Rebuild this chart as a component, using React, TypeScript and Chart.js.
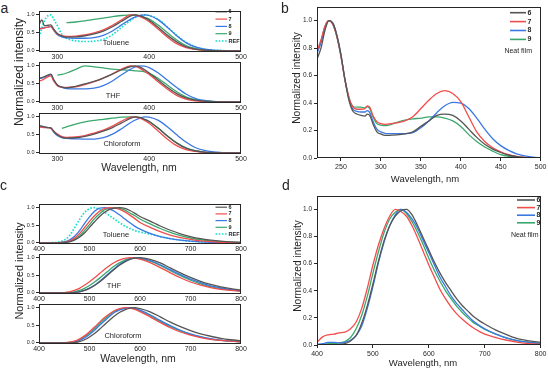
import React, { useEffect, useRef } from 'react';
import { Chart, registerables } from 'chart.js';
Chart.register(...registerables);

const FONT = '"Liberation Sans", Arial, Helvetica, sans-serif';
const INK = '#262626';
const COL6 = '#555555';
const COL7 = '#f24c4c';
const COL8 = '#3a78e3';
const COL9 = '#3aa86c';
const COLREF = '#14e0c8';

// ---------- Panel a : absorption in solution ----------
const WL_A = [280, 283, 286, 290, 293, 296, 300, 305, 310, 320, 330, 340, 350, 360, 370, 380, 385, 390, 395, 400, 410, 420, 430, 440, 450, 460, 470, 480, 490, 500];
const A_TOL_6 = [0.72, 0.86, 0.7, 0.71, 0.72, 0.6, 0.48, 0.41, 0.38, 0.39, 0.42, 0.47, 0.55, 0.67, 0.82, 0.97, 1.0, 0.97, 0.92, 0.85, 0.65, 0.43, 0.25, 0.12, 0.05, 0.02, 0.01, 0, 0, 0];
const A_TOL_7 = [0.6, 0.62, 0.64, 0.66, 0.68, 0.58, 0.47, 0.42, 0.4, 0.41, 0.44, 0.5, 0.58, 0.71, 0.86, 1.0, 0.99, 0.95, 0.89, 0.81, 0.6, 0.38, 0.2, 0.09, 0.04, 0.015, 0.005, 0, 0, 0];
const A_TOL_8 = [0.62, 0.63, 0.64, 0.66, 0.67, 0.57, 0.45, 0.39, 0.36, 0.35, 0.35, 0.37, 0.43, 0.55, 0.72, 0.88, 0.94, 0.98, 1.0, 0.98, 0.86, 0.65, 0.42, 0.23, 0.11, 0.05, 0.02, 0.01, 0, 0];
const A_TOL_9 = [null, null, null, null, null, null, null, null, 0.78, 0.8, 0.83, 0.87, 0.91, 0.95, 0.98, 1.0, 0.99, 0.97, 0.93, 0.88, 0.71, 0.5, 0.3, 0.15, 0.07, 0.03, 0.01, 0, 0, 0];
const A_TOL_REF = [0.38, 0.62, 0.84, 0.98, 1.0, 0.88, 0.7, 0.45, 0.35, 0.28, 0.26, 0.27, 0.32, 0.45, 0.65, 0.85, 0.93, 0.98, 1.0, 0.98, 0.87, 0.66, 0.43, 0.24, 0.12, 0.05, 0.02, 0.01, 0, 0];

const A_THF_6 = [0.66, 0.67, 0.7, 0.75, 0.77, 0.62, 0.47, 0.41, 0.39, 0.43, 0.5, 0.57, 0.66, 0.77, 0.89, 0.98, 1.0, 0.96, 0.89, 0.8, 0.6, 0.4, 0.23, 0.11, 0.05, 0.02, 0.01, 0, 0, 0];
const A_THF_7 = [0.58, 0.6, 0.64, 0.7, 0.72, 0.58, 0.45, 0.41, 0.4, 0.42, 0.48, 0.56, 0.66, 0.78, 0.91, 1.0, 0.98, 0.93, 0.85, 0.76, 0.55, 0.35, 0.18, 0.08, 0.03, 0.01, 0, 0, 0, 0];
const A_THF_8 = [0.65, 0.66, 0.69, 0.73, 0.75, 0.6, 0.47, 0.4, 0.37, 0.36, 0.36, 0.38, 0.45, 0.58, 0.75, 0.91, 0.97, 1.0, 0.99, 0.95, 0.8, 0.6, 0.4, 0.22, 0.1, 0.04, 0.015, 0.005, 0, 0];
const A_THF_9 = [null, null, null, null, null, null, 0.74, 0.76, 0.8, 0.9, 1.0, 0.97, 0.94, 0.91, 0.89, 0.87, 0.86, 0.85, 0.83, 0.79, 0.65, 0.46, 0.28, 0.14, 0.06, 0.02, 0.01, 0, 0, 0];

const A_CHL_6 = [0.76, 0.74, 0.72, 0.7, 0.69, 0.6, 0.5, 0.43, 0.41, 0.42, 0.46, 0.52, 0.6, 0.7, 0.83, 0.96, 1.0, 0.98, 0.93, 0.87, 0.68, 0.46, 0.27, 0.13, 0.06, 0.02, 0.01, 0, 0, 0];
const A_CHL_7 = [0.72, 0.71, 0.7, 0.7, 0.68, 0.6, 0.52, 0.45, 0.43, 0.44, 0.48, 0.55, 0.63, 0.74, 0.88, 0.99, 1.0, 0.96, 0.9, 0.82, 0.6, 0.38, 0.2, 0.09, 0.04, 0.015, 0.005, 0, 0, 0];
const A_CHL_8 = [0.75, 0.73, 0.71, 0.7, 0.68, 0.58, 0.48, 0.42, 0.4, 0.39, 0.38, 0.38, 0.42, 0.52, 0.67, 0.84, 0.91, 0.96, 1.0, 0.99, 0.9, 0.72, 0.5, 0.3, 0.15, 0.07, 0.03, 0.01, 0, 0];
const A_CHL_9 = [null, null, null, null, null, null, null, 0.68, 0.72, 0.8, 0.86, 0.9, 0.93, 0.96, 0.99, 1.0, 0.99, 0.97, 0.93, 0.87, 0.68, 0.47, 0.28, 0.14, 0.06, 0.02, 0.01, 0, 0, 0];

// ---------- Panel b : absorption, neat film ----------
const WL_B = [220, 225, 230, 235, 240, 245, 250, 255, 260, 265, 270, 275, 280, 283, 286, 290, 295, 300, 305, 310, 320, 330, 340, 350, 360, 370, 380, 390, 400, 410, 420, 430, 440, 450, 460, 470, 480, 490, 500];
const B_6 = [0.72, 0.8, 0.93, 1.0, 0.98, 0.89, 0.75, 0.57, 0.42, 0.34, 0.32, 0.31, 0.305, 0.32, 0.31, 0.25, 0.19, 0.175, 0.165, 0.165, 0.168, 0.175, 0.19, 0.23, 0.27, 0.31, 0.32, 0.31, 0.27, 0.21, 0.15, 0.1, 0.065, 0.04, 0.02, 0.01, 0.004, 0, 0];
const B_7 = [0.78, 0.86, 0.96, 1.0, 0.97, 0.88, 0.74, 0.57, 0.44, 0.37, 0.355, 0.355, 0.36, 0.38, 0.37, 0.31, 0.265, 0.25, 0.245, 0.248, 0.255, 0.27, 0.3, 0.36, 0.42, 0.47, 0.49, 0.47, 0.41, 0.3, 0.19, 0.12, 0.075, 0.045, 0.025, 0.012, 0.005, 0.002, 0];
const B_8 = [0.76, 0.84, 0.95, 1.0, 0.98, 0.89, 0.75, 0.57, 0.43, 0.355, 0.34, 0.335, 0.335, 0.345, 0.33, 0.27, 0.21, 0.19, 0.18, 0.178, 0.178, 0.178, 0.185, 0.22, 0.27, 0.33, 0.38, 0.405, 0.4, 0.36, 0.29, 0.21, 0.14, 0.09, 0.055, 0.03, 0.015, 0.006, 0];
const B_9 = [0.77, 0.85, 0.96, 1.0, 0.97, 0.88, 0.74, 0.57, 0.44, 0.375, 0.37, 0.37, 0.365, 0.375, 0.36, 0.3, 0.25, 0.24, 0.235, 0.24, 0.26, 0.275, 0.285, 0.29, 0.3, 0.3, 0.29, 0.27, 0.23, 0.17, 0.12, 0.08, 0.05, 0.025, 0.012, 0.005, 0.002, 0, 0];

// ---------- Panel c : emission in solution ----------
const WL_C = [400, 420, 440, 450, 460, 470, 480, 490, 500, 510, 520, 530, 540, 550, 560, 570, 580, 590, 600, 620, 640, 660, 680, 700, 720, 740, 760, 780, 800];
const C_TOL_6 = [0, 0, 0, 0.01, 0.03, 0.08, 0.16, 0.28, 0.44, 0.6, 0.75, 0.87, 0.95, 0.99, 1.0, 0.98, 0.92, 0.84, 0.75, 0.62, 0.48, 0.36, 0.26, 0.18, 0.12, 0.08, 0.05, 0.03, 0.02];
const C_TOL_7 = [0, 0, 0.005, 0.02, 0.05, 0.13, 0.26, 0.43, 0.61, 0.77, 0.9, 0.98, 1.0, 0.99, 0.95, 0.88, 0.79, 0.69, 0.58, 0.44, 0.32, 0.22, 0.15, 0.1, 0.06, 0.04, 0.02, 0.01, 0];
const C_TOL_8 = [0, 0, 0.01, 0.03, 0.08, 0.18, 0.34, 0.55, 0.74, 0.9, 0.99, 1.0, 0.96, 0.89, 0.79, 0.68, 0.57, 0.47, 0.39, 0.27, 0.18, 0.12, 0.08, 0.05, 0.03, 0.015, 0.01, 0.005, 0];
const C_TOL_9 = [0, 0, 0, 0.015, 0.04, 0.1, 0.2, 0.35, 0.52, 0.69, 0.83, 0.94, 0.99, 1.0, 0.98, 0.93, 0.85, 0.77, 0.68, 0.54, 0.41, 0.3, 0.21, 0.14, 0.09, 0.06, 0.04, 0.02, 0.01];
const C_TOL_REF = [0, 0.005, 0.03, 0.08, 0.2, 0.42, 0.66, 0.86, 0.97, 1.0, 0.95, 0.87, 0.77, 0.67, 0.57, 0.48, 0.41, 0.35, 0.31, 0.25, 0.18, 0.12, 0.08, 0.05, 0.03, 0.015, 0.005, 0, 0];

const C_THF_6 = [0, 0, 0, 0, 0, 0.01, 0.03, 0.07, 0.13, 0.21, 0.31, 0.43, 0.56, 0.68, 0.79, 0.88, 0.95, 0.99, 1.0, 0.95, 0.85, 0.71, 0.57, 0.44, 0.33, 0.24, 0.17, 0.12, 0.08];
const C_THF_7 = [0, 0, 0, 0.01, 0.03, 0.07, 0.13, 0.22, 0.32, 0.43, 0.55, 0.67, 0.78, 0.87, 0.94, 0.98, 1.0, 0.99, 0.96, 0.86, 0.72, 0.57, 0.43, 0.31, 0.22, 0.15, 0.1, 0.07, 0.05];
const C_THF_8 = [0, 0, 0, 0, 0, 0.01, 0.03, 0.07, 0.14, 0.22, 0.33, 0.45, 0.58, 0.7, 0.81, 0.9, 0.96, 1.0, 0.99, 0.92, 0.8, 0.66, 0.52, 0.39, 0.29, 0.2, 0.14, 0.09, 0.06];
const C_THF_9 = [0, 0, 0, 0, 0.01, 0.03, 0.07, 0.13, 0.21, 0.31, 0.42, 0.54, 0.66, 0.77, 0.86, 0.93, 0.98, 1.0, 0.98, 0.9, 0.78, 0.63, 0.49, 0.36, 0.26, 0.18, 0.12, 0.08, 0.06];

const C_CHL_6 = [0, 0, 0, 0, 0, 0.01, 0.04, 0.09, 0.17, 0.27, 0.39, 0.52, 0.65, 0.77, 0.87, 0.94, 0.99, 1.0, 0.97, 0.88, 0.74, 0.59, 0.46, 0.35, 0.26, 0.19, 0.13, 0.09, 0.06];
const C_CHL_7 = [0, 0, 0, 0.005, 0.02, 0.05, 0.11, 0.2, 0.32, 0.45, 0.59, 0.72, 0.83, 0.92, 0.97, 1.0, 0.99, 0.95, 0.89, 0.74, 0.58, 0.43, 0.31, 0.22, 0.15, 0.1, 0.07, 0.05, 0.03];
const C_CHL_8 = [0, 0, 0, 0, 0.01, 0.03, 0.07, 0.14, 0.24, 0.36, 0.5, 0.63, 0.76, 0.87, 0.94, 0.98, 1.0, 0.98, 0.93, 0.8, 0.64, 0.49, 0.36, 0.26, 0.18, 0.12, 0.08, 0.05, 0.035];
const C_CHL_9 = [0, 0, 0, 0.005, 0.015, 0.04, 0.09, 0.17, 0.28, 0.41, 0.55, 0.68, 0.8, 0.9, 0.96, 0.99, 1.0, 0.97, 0.91, 0.77, 0.61, 0.46, 0.34, 0.24, 0.17, 0.11, 0.07, 0.05, 0.03];

// ---------- Panel d : emission, neat film ----------
const WL_D = [400, 410, 420, 430, 440, 450, 460, 470, 480, 490, 500, 510, 520, 530, 540, 550, 560, 570, 580, 590, 600, 610, 620, 630, 640, 650, 660, 670, 680, 690, 700, 720, 740, 760, 780, 800];
const D_6 = [0, 0, 0, 0, 0.005, 0.01, 0.03, 0.07, 0.16, 0.29, 0.45, 0.62, 0.77, 0.88, 0.95, 0.99, 1.0, 0.96, 0.88, 0.79, 0.7, 0.61, 0.53, 0.46, 0.4, 0.34, 0.29, 0.25, 0.21, 0.18, 0.155, 0.11, 0.075, 0.045, 0.03, 0.02];
const D_7 = [0.02, 0.06, 0.075, 0.08, 0.09, 0.095, 0.12, 0.17, 0.27, 0.42, 0.59, 0.74, 0.86, 0.95, 1.0, 0.985, 0.95, 0.88, 0.79, 0.69, 0.59, 0.5, 0.41, 0.34, 0.28, 0.23, 0.19, 0.155, 0.125, 0.1, 0.08, 0.055, 0.035, 0.02, 0.01, 0.005];
const D_8 = [0.005, 0.01, 0.02, 0.02, 0.015, 0.02, 0.035, 0.07, 0.14, 0.27, 0.43, 0.61, 0.76, 0.88, 0.96, 1.0, 0.98, 0.93, 0.86, 0.77, 0.68, 0.59, 0.5, 0.43, 0.36, 0.305, 0.26, 0.215, 0.175, 0.145, 0.12, 0.08, 0.05, 0.03, 0.02, 0.01];
const D_9 = [0, 0.005, 0.01, 0.01, 0.015, 0.025, 0.055, 0.12, 0.22, 0.36, 0.53, 0.69, 0.83, 0.93, 0.98, 1.0, 0.97, 0.91, 0.83, 0.74, 0.64, 0.55, 0.47, 0.4, 0.34, 0.285, 0.24, 0.2, 0.165, 0.14, 0.115, 0.08, 0.05, 0.03, 0.02, 0.01];

// ---------- labels ----------
const SERIES_LABELS = ['6', '7', '8', '9', 'REF'];
const SOLVENTS = ['Toluene', 'THF', 'Chloroform'];
const Y_TITLE = 'Normalized intensity';
const X_TITLE = 'Wavelength, nm';
const NEAT = 'Neat film';

type Series = { label: string; color: string; values: (number | null)[]; dash?: number[]; width?: number };
type Box = { x: number; y: number; w: number; h: number };
type Pad = { l: number; r: number; t: number; b: number };
type LegendSpec = { x0: number; x1: number; tx: number; y0: number; dy: number; font: number; lw: number; extra?: { text: string; right: number; y: number; font: number } };
type PanelSpec = {
  box: Box; pad: Pad; wl: number[]; series: Series[];
  xMin: number; xMax: number; xStep: number;
  yMin: number; yMax: number; yStep: number;
  xFont: number; yFont: number; xTick: number; yTick: number; xPad: number; yPad: number;
  legend?: LegendSpec;
};

const s5 = (v6: any, v7: any, v8: any, v9: any, ref?: any): Series[] => {
  const out: Series[] = [
    { label: SERIES_LABELS[0], color: COL6, values: v6 },
    { label: SERIES_LABELS[1], color: COL7, values: v7 },
    { label: SERIES_LABELS[2], color: COL8, values: v8 },
    { label: SERIES_LABELS[3], color: COL9, values: v9 },
  ];
  if (ref) out.push({ label: SERIES_LABELS[4], color: COLREF, values: ref, dash: [1.6, 1.6], width: 1.7 });
  return out;
};

const framePlugin = {
  id: 'frame',
  afterDraw(chart: any) {
    const { ctx, chartArea: a } = chart;
    ctx.save();
    ctx.strokeStyle = INK;
    ctx.lineWidth = 1;
    ctx.strokeRect(Math.round(a.left) + 0.5, Math.round(a.top) + 0.5, Math.round(a.right - a.left) - 1, Math.round(a.bottom - a.top) - 1);
    ctx.restore();
  },
};

const legendPlugin = {
  id: 'inlegend',
  afterDatasetsDraw(chart: any, _args: any, opts: any) {
    if (!opts || !opts.spec) return;
    const sp = opts.spec;
    const ox = opts.ox, oy = opts.oy;
    const ctx = chart.ctx;
    ctx.save();
    chart.data.datasets.forEach((ds: any, i: number) => {
      const y = sp.y0 + i * sp.dy - oy;
      ctx.beginPath();
      ctx.strokeStyle = ds.borderColor;
      ctx.lineWidth = ds.label === 'REF' ? sp.lw + 0.4 : sp.lw;
      ctx.setLineDash(ds.label === 'REF' ? [1.6, 1.6] : []);
      ctx.moveTo(sp.x0 - ox, y);
      ctx.lineTo(sp.x1 - ox, y);
      ctx.stroke();
      ctx.setLineDash([]);
      ctx.fillStyle = INK;
      ctx.font = `bold ${sp.font}px ${FONT}`;
      ctx.textBaseline = 'middle';
      ctx.textAlign = 'left';
      ctx.fillText(ds.label, sp.tx - ox, y);
    });
    if (sp.extra) {
      ctx.fillStyle = INK;
      ctx.font = `${sp.extra.font}px ${FONT}`;
      ctx.textBaseline = 'middle';
      ctx.textAlign = 'right';
      ctx.fillText(sp.extra.text, sp.extra.right - ox, sp.extra.y - oy);
    }
    ctx.restore();
  },
};

function buildConfig(p: PanelSpec, ox: number, oy: number): any {
  return {
    type: 'line',
    data: {
      datasets: p.series.map((s) => ({
        label: s.label,
        data: p.wl.map((x, i) => ({ x, y: s.values[i] ?? null })),
        borderColor: s.color,
        backgroundColor: s.color,
        borderWidth: s.width ?? 1.3,
        borderDash: s.dash ?? [],
        pointRadius: 0,
        pointHoverRadius: 0,
        cubicInterpolationMode: 'monotone',
        fill: false,
        spanGaps: false,
      })),
    },
    options: {
      animation: false,
      responsive: false,
      maintainAspectRatio: false,
      events: [],
      layout: { padding: { left: 0, right: p.pad.r, top: p.pad.t, bottom: 0 } },
      plugins: {
        legend: { display: false },
        tooltip: { enabled: false },
        inlegend: { spec: p.legend ?? null, ox, oy },
      },
      scales: {
        x: {
          type: 'linear',
          min: p.xMin,
          max: p.xMax,
          afterFit: (s: any) => { s.height = p.pad.b; },
          border: { display: false },
          grid: { drawOnChartArea: false, drawTicks: p.xTick > 0, tickLength: p.xTick, color: INK, lineWidth: 1 },
          ticks: {
            stepSize: p.xStep, includeBounds: false, autoSkip: false, maxRotation: 0, minRotation: 0,
            padding: p.xPad, color: INK, font: { family: FONT, size: p.xFont },
            callback: (v: any) => String(Math.round(Number(v))),
          },
        },
        y: {
          type: 'linear',
          min: p.yMin,
          max: p.yMax,
          afterFit: (s: any) => { s.width = p.pad.l; },
          border: { display: false },
          grid: { drawOnChartArea: false, drawTicks: true, tickLength: p.yTick, color: INK, lineWidth: 1 },
          ticks: {
            stepSize: p.yStep, includeBounds: false, autoSkip: false,
            padding: p.yPad, color: INK, font: { family: FONT, size: p.yFont },
            callback: (v: any) => Number(v).toFixed(1),
          },
        },
      },
    },
    plugins: [legendPlugin, framePlugin],
  };
}

function Plot({ p }: { p: PanelSpec }) {
  const ref = useRef<HTMLCanvasElement>(null);
  const W = p.box.w + p.pad.l + p.pad.r;
  const H = p.box.h + p.pad.t + p.pad.b;
  const ox = p.box.x - p.pad.l;
  const oy = p.box.y - p.pad.t;
  useEffect(() => {
    const chart = new Chart(ref.current as HTMLCanvasElement, buildConfig(p, ox, oy));
    return () => chart.destroy();
  }, []);
  return <canvas ref={ref} width={W} height={H} style={{ position: 'absolute', left: ox, top: oy, width: W, height: H }} />;
}

const PAD_SUB: Pad = { l: 22, r: 12, t: 4, b: 10 };
const PAD_BIG: Pad = { l: 28, r: 6, t: 5, b: 14 };
const subBase = { xFont: 7, yFont: 5.5, xTick: 0, yTick: 3, xPad: 1, yPad: 1.5, yMin: -0.03, yMax: 1.11, yStep: 0.5 };
const bigBase = { xFont: 7, yFont: 6.5, xTick: 3, yTick: 3, xPad: 1.5, yPad: 2, yMin: 0, yMax: 1.1, yStep: 0.2 };

const PANELS: PanelSpec[] = [
  { ...subBase, box: { x: 39, y: 10, w: 202, h: 42 }, pad: PAD_SUB, wl: WL_A, xMin: 280, xMax: 500, xStep: 100,
    series: s5(A_TOL_6, A_TOL_7, A_TOL_8, A_TOL_9, A_TOL_REF),
    legend: { x0: 215.5, x1: 227, tx: 228.5, y0: 11.8, dy: 7.3, font: 5.5, lw: 1.2 } },
  { ...subBase, box: { x: 39, y: 61, w: 202, h: 42 }, pad: PAD_SUB, wl: WL_A, xMin: 280, xMax: 500, xStep: 100,
    series: s5(A_THF_6, A_THF_7, A_THF_8, A_THF_9) },
  { ...subBase, box: { x: 39, y: 112, w: 202, h: 42 }, pad: PAD_SUB, wl: WL_A, xMin: 280, xMax: 500, xStep: 100,
    series: s5(A_CHL_6, A_CHL_7, A_CHL_8, A_CHL_9) },
  { ...bigBase, box: { x: 317, y: 6, w: 225, h: 152 }, pad: PAD_BIG, wl: WL_B, xMin: 220, xMax: 500, xStep: 50,
    series: s5(B_6, B_7, B_8, B_9),
    legend: { x0: 510, x1: 526, tx: 527.5, y0: 12.7, dy: 8.9, font: 7, lw: 1.6, extra: { text: NEAT, right: 532, y: 51, font: 7 } } },
  { ...subBase, box: { x: 39, y: 203, w: 202, h: 41 }, pad: PAD_SUB, wl: WL_C, xMin: 400, xMax: 800, xStep: 100,
    series: s5(C_TOL_6, C_TOL_7, C_TOL_8, C_TOL_9, C_TOL_REF),
    legend: { x0: 215.5, x1: 227, tx: 228.5, y0: 207.2, dy: 6.7, font: 5.5, lw: 1.2 } },
  { ...subBase, box: { x: 39, y: 253, w: 202, h: 41 }, pad: PAD_SUB, wl: WL_C, xMin: 400, xMax: 800, xStep: 100,
    series: s5(C_THF_6, C_THF_7, C_THF_8, C_THF_9) },
  { ...subBase, box: { x: 39, y: 303, w: 202, h: 41 }, pad: PAD_SUB, wl: WL_C, xMin: 400, xMax: 800, xStep: 100,
    series: s5(C_CHL_6, C_CHL_7, C_CHL_8, C_CHL_9) },
  { ...bigBase, box: { x: 317, y: 195, w: 225, h: 150 }, pad: PAD_BIG, wl: WL_D, xMin: 400, xMax: 800, xStep: 100,
    series: s5(D_6, D_7, D_8, D_9),
    legend: { x0: 517, x1: 535, tx: 536.5, y0: 200, dy: 7.6, font: 7, lw: 1.6, extra: { text: NEAT, right: 538.5, y: 235.5, font: 7 } } },
];

type TextSpec = { t: string; x: number; y: number; size: number; rot?: boolean };
const TEXTS: TextSpec[] = [
  { t: 'a', x: 4.5, y: 7.5, size: 14 },
  { t: 'b', x: 285, y: 8, size: 14 },
  { t: 'c', x: 3.5, y: 184.5, size: 14 },
  { t: 'd', x: 286, y: 185, size: 14 },
  { t: Y_TITLE, x: 19, y: 72, size: 12, rot: true },
  { t: X_TITLE, x: 139, y: 167, size: 10.5 },
  { t: Y_TITLE, x: 19, y: 271, size: 10.8, rot: true },
  { t: X_TITLE, x: 138, y: 358, size: 10.5 },
  { t: Y_TITLE, x: 297, y: 78, size: 10.2, rot: true },
  { t: X_TITLE, x: 425, y: 178.5, size: 9.5 },
  { t: Y_TITLE, x: 298, y: 266, size: 10.2, rot: true },
  { t: X_TITLE, x: 423, y: 363, size: 9.5 },
  { t: SOLVENTS[0], x: 116, y: 42.5, size: 7.5 },
  { t: SOLVENTS[1], x: 113, y: 96, size: 7.5 },
  { t: SOLVENTS[2], x: 122, y: 144, size: 7.5 },
  { t: SOLVENTS[0], x: 116, y: 235, size: 7.5 },
  { t: SOLVENTS[1], x: 114, y: 286, size: 7.5 },
  { t: SOLVENTS[2], x: 123, y: 336, size: 7.5 },
];

export default function App() {
  return (
    <div style={{ position: 'absolute', left: 0, top: 0, width: 548, height: 369, background: '#fff', overflow: 'hidden', fontFamily: FONT, color: INK }}>
      {PANELS.map((p, i) => <Plot key={i} p={p} />)}
      {TEXTS.map((t, i) => (
        <div key={'t' + i} style={{
          position: 'absolute', left: t.x, top: t.y, fontSize: t.size, lineHeight: `${t.size}px`, whiteSpace: 'nowrap',
          transform: `translate(-50%, -50%)${t.rot ? ' rotate(-90deg)' : ''}`,
        }}>{t.t}</div>
      ))}
    </div>
  );
}
